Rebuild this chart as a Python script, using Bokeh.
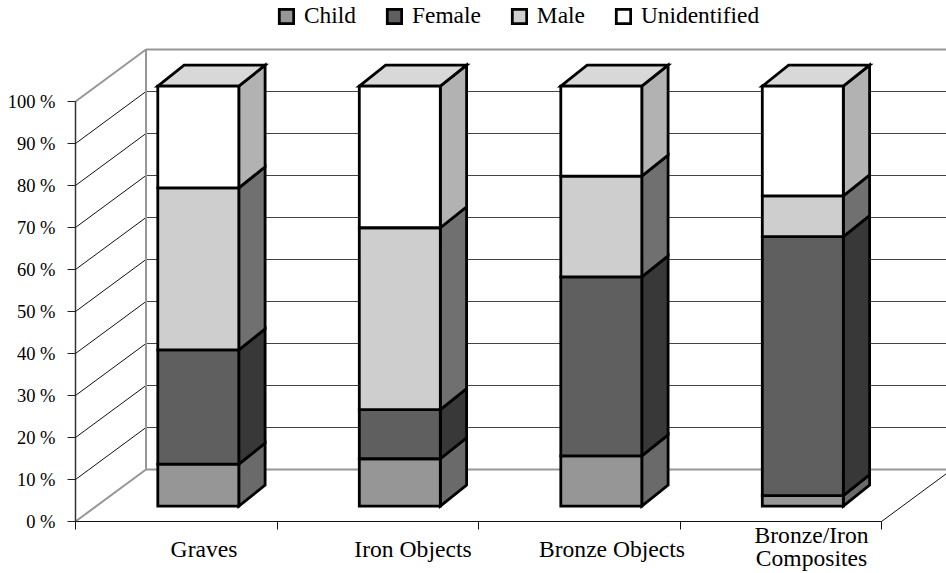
from bokeh.plotting import figure
from bokeh.models import ColumnDataSource, FixedTicker, Legend, LegendItem, LinearAxis, Range1d
from bokeh.core.properties import value
from bokeh.embed import file_html
from bokeh.resources import INLINE

categories = ["Graves", "Iron Objects", "Bronze Objects", "Bronze/Iron\nComposites"]
series = ["Child", "Female", "Male", "Unidentified"]
child = [10.0, 11.3, 12.0, 2.5]
female = [27.2, 11.7, 42.6, 61.7]
male = [38.6, 43.3, 24.0, 9.7]
unidentified = [24.2, 33.7, 21.4, 26.1]
y_ticks = [0, 10, 20, 30, 40, 50, 60, 70, 80, 90, 100]
y_labels = ["0 %", "10 %", "20 %", "30 %", "40 %", "50 %", "60 %", "70 %", "80 %", "90 %", "100 %"]
front_colors = ["#969696", "#5f5f5f", "#cecece", "#ffffff"]
side_colors = ["#6a6a6a", "#383838", "#707070", "#b2b2b2"]
top_color = "#d8d8d8"
label_shift_px = [128.5, 136, 133.5, 131.5]
label_drop_px = [27, 27, 27, 25]

FONT = "Liberation Serif"
W, H = 946, 573
PX_X, PX_Y = 201.5, 4.2            # pixels per category, per percent
ORIGIN_X, ORIGIN_Y = 75, 52        # where (0, 0) lies inside the figure

def dx(px): return px / PX_X
def dy(px): return px / PX_Y

WALL_X, WALL_Y = dx(70.5), dy(52)
BAR_W = dx(81)
BAR_LEFT = dx(82.3)
BAR_BASE = dy(15.3)
DEPTH_X, DEPTH_Y = dx(26.3), dy(21)

p = figure(width=W, height=H, output_backend="svg", toolbar_location=None,
           x_range=Range1d(-ORIGIN_X / PX_X, (W - ORIGIN_X) / PX_X),
           y_range=Range1d(-ORIGIN_Y / PX_Y, (H - ORIGIN_Y) / PX_Y),
           x_axis_type=None, y_axis_type=None,
           min_border=0, min_border_left=0, min_border_right=0, min_border_top=0, min_border_bottom=0)
p.outline_line_color = None
p.background_fill_color = "white"
p.grid.visible = False

# walls
n_cat = len(categories)
inner = y_ticks[1:-1]
p.segment([0] * len(inner), inner, [WALL_X] * len(inner), [t + WALL_Y for t in inner],
          line_color="#111111", line_width=1)
p.segment([WALL_X] * len(inner), [t + WALL_Y for t in inner],
          [n_cat + WALL_X] * len(inner), [t + WALL_Y for t in inner],
          line_color="#444444", line_width=1)
p.segment([n_cat], [0], [n_cat + WALL_X], [WALL_Y], line_color="#111111", line_width=1)
gray = "#969696"
p.segment([0, 0], [0, 100], [WALL_X, WALL_X], [WALL_Y, 100 + WALL_Y], line_color=gray, line_width=2)
p.segment([WALL_X, WALL_X, WALL_X], [WALL_Y, 100 + WALL_Y, WALL_Y],
          [n_cat + WALL_X, n_cat + WALL_X, WALL_X], [WALL_Y, 100 + WALL_Y, 100 + WALL_Y],
          line_color=gray, line_width=2)

# bars
stacks = [child, female, male, unidentified]
base = [0.0] * n_cat
legend_items = []
side_xs, side_ys, side_fill = [], [], []
fronts = []
for s, vals in enumerate(stacks):
    top = [b + v for b, v in zip(base, vals)]
    lefts = [i + BAR_LEFT for i in range(n_cat)]
    rights = [l + BAR_W for l in lefts]
    bottoms = [b + BAR_BASE for b in base]
    tops = [t + BAR_BASE for t in top]
    for r, b, t in zip(rights, bottoms, tops):
        side_xs.append([r, r + DEPTH_X, r + DEPTH_X, r])
        side_ys.append([b, b + DEPTH_Y, t + DEPTH_Y, t])
        side_fill.append(side_colors[s])
    fronts.append(dict(left=lefts, right=rights, bottom=bottoms, top=tops))
    base = top

p.patches(side_xs, side_ys, fill_color=side_fill, line_color="black", line_width=2.8, line_join="miter")
tl = fronts[-1]
p.patches([[l, l + DEPTH_X, r + DEPTH_X, r] for l, r in zip(tl["left"], tl["right"])],
          [[t, t + DEPTH_Y, t + DEPTH_Y, t] for t in tl["top"]],
          fill_color=top_color, line_color="black", line_width=2.8, line_join="miter")
for s, f in enumerate(fronts):
    r = p.quad(source=ColumnDataSource(f), left="left", right="right", bottom="bottom", top="top",
               fill_color=front_colors[s], line_color="black", line_width=2.8, line_join="miter")
    legend_items.append(LegendItem(label=series[s], renderers=[r]))

# axes
ax_y = LinearAxis(fixed_location=0, ticker=FixedTicker(ticks=y_ticks), bounds=(0, 100),
                  major_label_overrides=dict(zip(y_ticks, y_labels)),
                  axis_line_color="#333333", axis_line_width=1.5,
                  major_tick_line_color="#222222", major_tick_line_width=1,
                  major_tick_in=0, major_tick_out=8, minor_tick_line_color=None,
                  major_label_text_font=FONT, major_label_text_font_size="18.5px",
                  major_label_text_color="black", major_label_standoff=12)
p.add_layout(ax_y, "left")
ticks_x = list(range(n_cat + 1))
ax_x = LinearAxis(fixed_location=0, ticker=FixedTicker(ticks=ticks_x), bounds=(0, n_cat),
                  major_label_overrides={t: "" for t in ticks_x},
                  axis_line_color="#111111", axis_line_width=1.2,
                  major_tick_line_color="#111111", major_tick_line_width=1,
                  major_tick_in=0, major_tick_out=8, minor_tick_line_color=None)
p.add_layout(ax_x, "below")

p.text([i + dx(s) for i, s in enumerate(label_shift_px)], [dy(-d) for d in label_drop_px], text=categories,
       text_font=value(FONT), text_font_size="23.6px", text_color="black",
       text_align="center", text_baseline="middle", text_line_height=0.85)

legend = Legend(items=legend_items, orientation="horizontal", location=(277, H - 29),
                background_fill_alpha=0, border_line_color=None, padding=0, margin=0,
                spacing=29, glyph_width=18, glyph_height=18, label_standoff=9,
                label_text_font=FONT, label_text_font_size="23.4px", label_text_color="black")
p.add_layout(legend, "center")

open("out.html", "w").write(file_html(p, INLINE))
